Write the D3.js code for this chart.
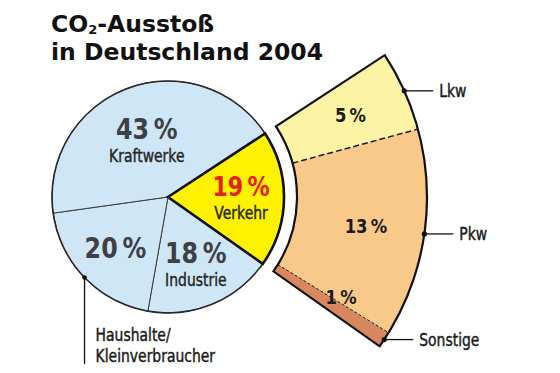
<!DOCTYPE html>
<html>
<head>
<meta charset="utf-8">
<script src="https://cdn.jsdelivr.net/npm/d3@7"></script>
<style>
body { margin: 0; background: #fff; }
svg { display: block; }
text { font-family: "DejaVu Sans", sans-serif; }
</style>
</head>
<body>
<script>
// CO2-Ausstoß in Deutschland 2004, Anteile in Prozent
var sectors = ['Verkehr', 'Industrie', 'Haushalte/Kleinverbraucher', 'Kraftwerke'];
var sector_values = [19, 18, 20, 43];
var sector_inner_names = ['Verkehr', 'Industrie', '', 'Kraftwerke'];   // '' -> name is a callout
var traffic = ['Lkw', 'Pkw', 'Sonstige'];
var traffic_values = [5, 13, 1];
var title_lines = [['CO', '2', '-Ausstoß'], ['in Deutschland 2004']];  // odd parts = subscript

var sector_colors = ['#fff200', '#cfe6f6', '#cfe6f6', '#cfe6f6'];
var traffic_colors = ['#fdf3a5', '#f9c98a', '#d8875e'];

var width = 560, height = 373;
var cx = 168, cy = 197, r = 116, ring_in = 129, ring_out = 259;
var cond = 0.82;  // fake condensed type

var svg = d3.select('body').append('svg').attr('width', width).attr('height', height);

// title
title_lines.forEach(function (parts, li) {
    var t = svg.append('text').attr('x', 51).attr('y', 32 + li * 28)
        .attr('font-size', 23.5).attr('font-weight', 'bold').attr('fill', '#111');
    parts.forEach(function (p, k) {
        var ts = t.append('tspan').text(p);
        if (k % 2 == 1) ts.attr('font-size', 13).attr('dy', 1.5);
        else if (k > 0) ts.attr('dy', -1.5);
    });
});

function polar(a, rr) { return [rr * Math.sin(a), -rr * Math.cos(a)]; }

function label(parent, x, y, txt, size, weight, color, anchor) {
    var t = parent.append('text')
        .attr('transform', 'translate(' + x + ',' + y + ') scale(' + cond + ',1)')
        .attr('text-anchor', anchor || 'middle')
        .attr('font-size', size).attr('font-weight', weight).attr('fill', color)
        .text(txt);
    if (weight == 'normal') t.attr('stroke', color).attr('stroke-width', 0.45);  // medium weight look
    return t;
}

var g = svg.append('g').attr('transform', 'translate(' + cx + ',' + cy + ')');

// main pie, Verkehr centred on the right
var start = 56.8 * Math.PI / 180;
var slices = d3.pie().sort(null).startAngle(start).endAngle(start + 2 * Math.PI)(sector_values);
var arc = d3.arc().innerRadius(0).outerRadius(r);

g.selectAll('path.sector').data(slices).enter().append('path')
    .attr('class', 'sector')
    .attr('d', arc)
    .attr('fill', function (d, i) { return sector_colors[i]; })
    .attr('stroke', '#3a3a3a').attr('stroke-width', 1);
g.append('circle').attr('r', r).attr('fill', 'none').attr('stroke', '#2a2a2a').attr('stroke-width', 1.6);
g.append('path').attr('d', arc(slices[0])).attr('fill', sector_colors[0])
    .attr('stroke', '#111').attr('stroke-width', 2.6).attr('stroke-linejoin', 'miter');

// exploded Verkehr ring
var v = slices[0];
var sub = d3.pie().sort(null).startAngle(v.startAngle).endAngle(v.endAngle)(traffic_values);
var ring = d3.arc().innerRadius(ring_in).outerRadius(ring_out);

g.selectAll('path.sub').data(sub).enter().append('path')
    .attr('class', 'sub')
    .attr('d', ring)
    .attr('fill', function (d, i) { return traffic_colors[i]; });

sub.slice(1).forEach(function (d, i) {
    var p0 = polar(d.startAngle, ring_in), p1 = polar(d.startAngle, ring_out);
    g.append('line')
        .attr('x1', p0[0]).attr('y1', p0[1]).attr('x2', p1[0]).attr('y2', p1[1])
        .attr('stroke', '#1a1a1a')
        .attr('stroke-width', i == 0 ? 1.5 : 1)
        .attr('stroke-dasharray', i == 0 ? '6,3' : '3,2');
});
g.append('path').attr('d', ring({startAngle: v.startAngle, endAngle: v.endAngle}))
    .attr('fill', 'none').attr('stroke', '#111').attr('stroke-width', 2.2);

// ring labels + callouts
sub.forEach(function (d, i) {
    var mid = (d.startAngle + d.endAngle) / 2;
    var la = d.value < 2 ? mid - 3.3 * Math.PI / 180 : mid;
    var p = polar(la, 200);
    label(g, p[0], p[1] + 7, d.value + '\u2009%', 20, 'bold', '#1a1a1a');

    var q = polar(mid, ring_out);
    g.append('circle').attr('cx', q[0]).attr('cy', q[1]).attr('r', 2.6).attr('fill', '#111');
    g.append('line').attr('x1', q[0]).attr('y1', q[1]).attr('x2', q[0] + 29).attr('y2', q[1])
        .attr('stroke', '#111').attr('stroke-width', 1.3);
    label(g, q[0] + 35, q[1] + 6, traffic[i], 17, 'normal', '#1a1a1a', 'start');
});

// pie labels
slices.forEach(function (d, i) {
    var mid = (d.startAngle + d.endAngle) / 2;
    var lr = d.value > 40 ? 0.52 * r : 0.63 * r;
    var p = polar(mid, lr);
    var name = sector_inner_names[i];
    var red = i == 0;
    label(g, p[0], name ? p[1] - 2 : p[1] + 10, d.value + '\u2009%',
        red ? 27 : 29, 'bold', red ? '#e2231a' : '#3d4044');
    if (name) label(g, p[0], p[1] + 21, name, 17, 'normal', '#262626');
    if (!name) {
        // callout below the pie
        var q = polar(mid, r);
        g.append('circle').attr('cx', q[0]).attr('cy', q[1]).attr('r', 2.4).attr('fill', '#111');
        g.append('line').attr('x1', q[0]).attr('y1', q[1]).attr('x2', q[0]).attr('y2', 167)
            .attr('stroke', '#111').attr('stroke-width', 1.3);
        var parts = sectors[i].split('/');
        label(g, q[0] + 11, 144, parts[0] + '/', 17, 'normal', '#1a1a1a', 'start');
        label(g, q[0] + 11, 165, parts[1], 17, 'normal', '#1a1a1a', 'start');
    }
});
</script>
</body>
</html>
